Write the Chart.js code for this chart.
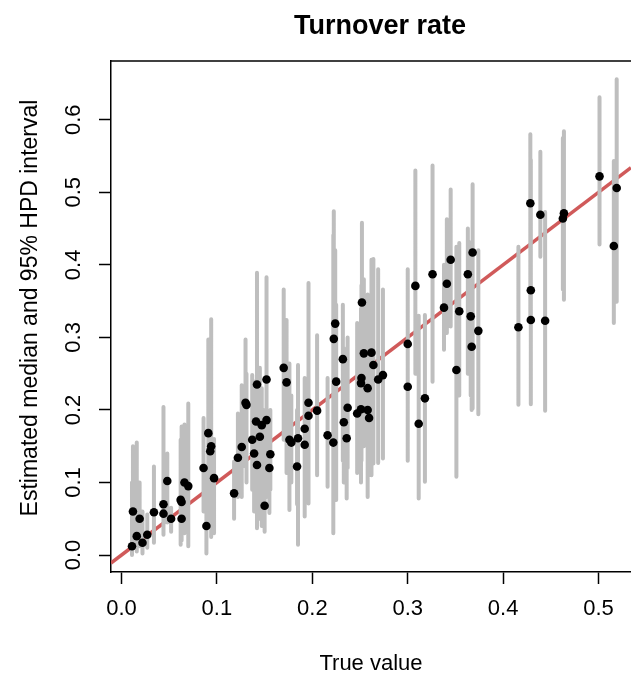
<!DOCTYPE html>
<html>
<head>
<meta charset="utf-8">
<title>Turnover rate</title>
<script src="https://cdn.jsdelivr.net/npm/chart.js@4.4.1/dist/chart.umd.min.js"></script>
<style>
  html, body { margin: 0; padding: 0; background: #fff; }
  canvas { display: block; }
</style>
</head>
<body>
<canvas id="turnoverChart" width="631" height="675"></canvas>
<script>
// one entry per simulated data set: true value, posterior median, 95% HPD bounds
const trueValue = [
  0.011, 0.012, 0.016, 0.019, 0.022, 0.027, 0.034, 0.044, 0.044, 0.048, 0.052, 0.062, 0.063, 0.063, 0.066, 0.070, 0.086, 0.089, 0.091, 0.094, 0.093, 0.097,
  0.118, 0.122, 0.126, 0.130, 0.131, 0.137, 0.139, 0.141, 0.142, 0.142, 0.145, 0.147, 0.150, 0.152, 0.152, 0.155, 0.156, 0.170, 0.173, 0.176, 0.178, 0.185, 0.184,
  0.192, 0.192, 0.196, 0.196, 0.205, 0.216, 0.222, 0.2225, 0.224, 0.225, 0.232, 0.233, 0.236, 0.237, 0.247, 0.252, 0.2515, 0.251, 0.254, 0.258, 0.251, 0.258,
  0.2595, 0.262, 0.264, 0.269, 0.274,
  0.300, 0.300, 0.308, 0.3115, 0.318, 0.326, 0.341, 0.338, 0.345, 0.351, 0.354, 0.363, 0.368, 0.366, 0.367, 0.374, 0.416, 0.4285, 0.429, 0.429, 0.439, 0.444,
  0.4637, 0.4626, 0.501, 0.519, 0.516
];
const median = [
  0.012, 0.060, 0.026, 0.050, 0.017, 0.028, 0.059, 0.070, 0.057, 0.102, 0.050, 0.076, 0.073, 0.050, 0.100, 0.095, 0.120, 0.040, 0.168, 0.150, 0.143, 0.106,
  0.085, 0.134, 0.149, 0.210, 0.207, 0.159, 0.140, 0.184, 0.124, 0.235, 0.163, 0.179, 0.068, 0.242, 0.186, 0.120, 0.139, 0.258, 0.238, 0.159, 0.155, 0.161, 0.122,
  0.174, 0.152, 0.192, 0.210, 0.199, 0.165, 0.155, 0.298, 0.319, 0.239, 0.270, 0.183, 0.161, 0.203, 0.195, 0.348, 0.244, 0.237, 0.278, 0.230, 0.201, 0.200,
  0.189, 0.279, 0.262, 0.242, 0.248,
  0.291, 0.232, 0.371, 0.181, 0.216, 0.387, 0.374, 0.341, 0.407, 0.255, 0.336, 0.387, 0.417, 0.329, 0.287, 0.309, 0.314, 0.485, 0.365, 0.324, 0.469, 0.323,
  0.471, 0.464, 0.522, 0.506, 0.426
];
const hpdLow = [
  0.000, 0.010, 0.005, 0.012, 0.002, 0.010, 0.017, 0.028, 0.030, 0.045, 0.032, 0.014, 0.025, 0.020, 0.030, 0.012, 0.060, 0.002, 0.040, 0.025, 0.050, 0.030,
  0.050, 0.080, 0.080, 0.122, 0.100, 0.090, 0.060, 0.070, 0.037, 0.100, 0.050, 0.040, 0.032, 0.090, 0.080, 0.058, 0.090, 0.159, 0.113, 0.062, 0.100, 0.014, 0.070,
  0.053, 0.090, 0.071, 0.110, 0.110, 0.094, 0.030, 0.150, 0.200, 0.076, 0.130, 0.100, 0.078, 0.120, 0.113, 0.200, 0.130, 0.100, 0.150, 0.080, 0.110, 0.110,
  0.110, 0.110, 0.126, 0.127, 0.133,
  0.172, 0.130, 0.250, 0.078, 0.101, 0.239, 0.306, 0.283, 0.315, 0.108, 0.220, 0.250, 0.202, 0.220, 0.200, 0.194, 0.207, 0.330, 0.250, 0.208, 0.411, 0.199,
  0.352, 0.366, 0.428, 0.349, 0.320
];
const hpdHigh = [
  0.100, 0.150, 0.155, 0.100, 0.060, 0.056, 0.122, 0.116, 0.204, 0.140, 0.065, 0.159, 0.130, 0.177, 0.180, 0.209, 0.189, 0.120, 0.297, 0.325, 0.200, 0.160,
  0.129, 0.195, 0.234, 0.297, 0.250, 0.248, 0.200, 0.240, 0.200, 0.389, 0.258, 0.230, 0.200, 0.383, 0.250, 0.180, 0.200, 0.366, 0.324, 0.264, 0.220, 0.262, 0.200,
  0.244, 0.220, 0.375, 0.280, 0.303, 0.244, 0.441, 0.474, 0.420, 0.345, 0.345, 0.285, 0.240, 0.300, 0.320, 0.458, 0.372, 0.340, 0.380, 0.359, 0.300, 0.290,
  0.300, 0.407, 0.408, 0.394, 0.366,
  0.394, 0.300, 0.530, 0.330, 0.331, 0.537, 0.463, 0.400, 0.504, 0.425, 0.430, 0.450, 0.511, 0.431, 0.380, 0.420, 0.425, 0.580, 0.545, 0.400, 0.556, 0.473,
  0.584, 0.575, 0.631, 0.656, 0.543
];

const xTicks = [0.0, 0.1, 0.2, 0.3, 0.4, 0.5];
const yTicks = [0.0, 0.1, 0.2, 0.3, 0.4, 0.5, 0.6];
const xRange = [-0.011, 0.534];
const yRange = [-0.0234, 0.681];

const fontFamily = "'Liberation Sans', Arial, Helvetica, sans-serif";

// vertical HPD segments, separated by null so the line breaks between them
const intervalData = [];
trueValue.forEach((x, i) => {
  intervalData.push({ x: x, y: hpdLow[i] });
  intervalData.push({ x: x, y: hpdHigh[i] });
  intervalData.push({ x: x, y: null });
});
const pointData = trueValue.map((x, i) => ({ x: x, y: median[i] }));
const identityData = [{ x: xRange[0], y: xRange[0] }, { x: xRange[1], y: xRange[1] }];

// top edge of the box, main title and y title (the R plot region runs past the right edge)
const frameAndTitles = {
  id: 'frameAndTitles',
  afterDraw(chart) {
    const { ctx, chartArea } = chart;
    ctx.save();
    ctx.strokeStyle = '#000';
    ctx.lineWidth = 1.5;
    ctx.beginPath();
    ctx.moveTo(chartArea.left, chartArea.top);
    ctx.lineTo(chart.width, chartArea.top);
    ctx.stroke();

    ctx.fillStyle = '#000';
    ctx.textAlign = 'center';
    ctx.textBaseline = 'middle';
    ctx.font = 'bold 27px ' + fontFamily;
    ctx.fillText('Turnover rate', 380, 27);

    ctx.translate(31, 308);
    ctx.rotate(-Math.PI / 2);
    ctx.font = '23px ' + fontFamily;
    ctx.fillText('Estimated median and 95% HPD interval', 0, 0);
    ctx.restore();
  }
};

const ctx = document.getElementById('turnoverChart').getContext('2d');
const turnoverChart = new Chart(ctx, {
  type: 'scatter',
  data: {
    datasets: [
      {
        label: 'y = x',
        type: 'line',
        data: identityData,
        borderColor: '#D05A5A',
        borderWidth: 3.5,
        pointRadius: 0,
        order: 3
      },
      {
        label: '95% HPD interval',
        type: 'line',
        data: intervalData,
        borderColor: '#BEBEBE',
        borderWidth: 4,
        borderCapStyle: 'round',
        spanGaps: false,
        pointRadius: 0,
        order: 2
      },
      {
        label: 'Median',
        data: pointData,
        backgroundColor: '#000',
        borderWidth: 0,
        pointRadius: 4.3,
        order: 1
      }
    ]
  },
  options: {
    responsive: false,
    animation: false,
    layout: { autoPadding: false, padding: { top: 61, right: 0, bottom: 0, left: 0 } },
    plugins: {
      legend: { display: false },
      tooltip: { enabled: false },
      title: { display: false }
    },
    scales: {
      x: {
        type: 'linear',
        min: xRange[0],
        max: xRange[1],
        afterBuildTicks: s => { s.ticks = xTicks.map(v => ({ value: v })); },
        afterFit: s => { s.height = 103; s.paddingLeft = 0; s.paddingRight = 0; },
        grid: { drawOnChartArea: false, drawTicks: true, tickLength: 12, tickColor: '#000', tickWidth: 1.5 },
        border: { display: true, color: '#000', width: 1.5 },
        ticks: {
          color: '#000',
          font: { family: fontFamily, size: 22 },
          padding: 12,
          maxRotation: 0,
          callback: v => v.toFixed(1)
        },
        title: {
          display: true,
          text: 'True value',
          color: '#000',
          font: { family: fontFamily, size: 22, lineHeight: 1 },
          padding: { top: 1, bottom: 0 }
        }
      },
      y: {
        type: 'linear',
        min: yRange[0],
        max: yRange[1],
        afterBuildTicks: s => { s.ticks = yTicks.map(v => ({ value: v })); },
        afterFit: s => { s.width = 111; s.paddingTop = 0; s.paddingBottom = 0; },
        grid: { drawOnChartArea: false, drawTicks: true, tickLength: 12, tickColor: '#000', tickWidth: 1.5 },
        border: { display: true, color: '#000', width: 1.5 },
        ticks: {
          color: '#000',
          font: { family: fontFamily, size: 22 },
          padding: 10,
          minRotation: 90,
          maxRotation: 90,
          crossAlign: 'center',
          callback: v => v.toFixed(1)
        }
      }
    }
  },
  plugins: [frameAndTitles]
});
</script>
</body>
</html>
